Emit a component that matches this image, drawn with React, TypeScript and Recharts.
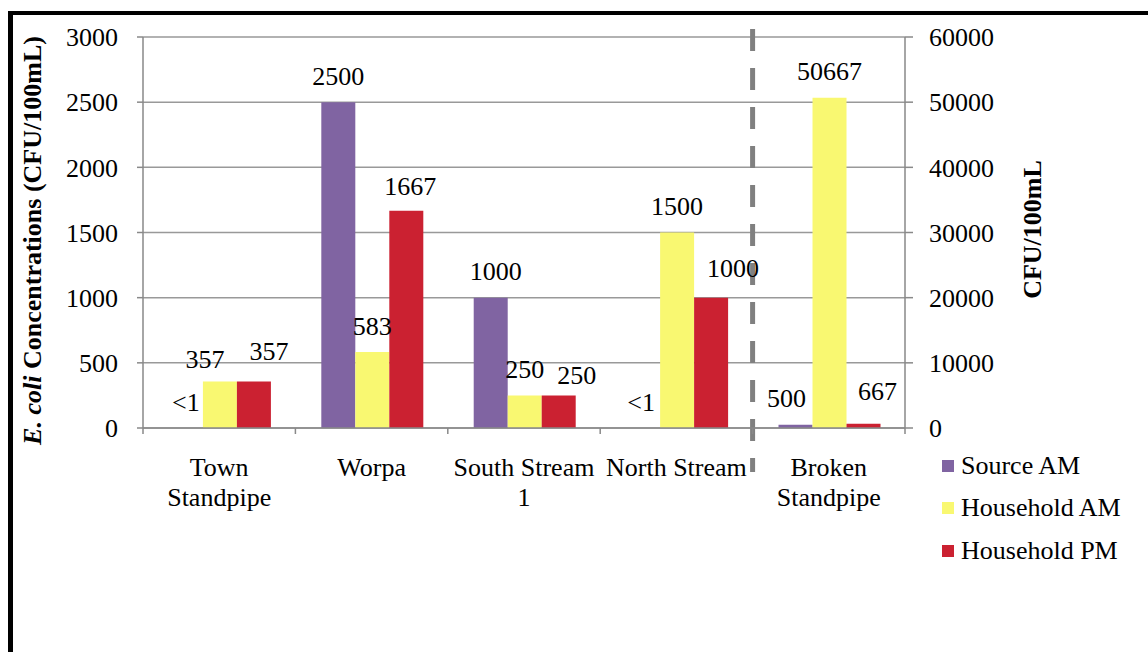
import React from 'react';
import { BarChart, Bar, XAxis, YAxis, CartesianGrid, ReferenceLine, LabelList, Legend } from 'recharts';

// E. coli counts per site (CFU/100mL); 0 means below detection (<1)
const categories = ['Town\nStandpipe', 'Worpa', 'South Stream\n1', 'North Stream', 'Broken\nStandpipe'];
const sourceAm = [0, 2500, 1000, 0, 500];
const householdAm = [357, 583, 250, 1500, 50667];
const householdPm = [357, 1667, 250, 1000, 667];
// sites read against the right-hand axis
const rightAxisSites = ['Broken\nStandpipe'];

const leftTicks = [0, 500, 1000, 1500, 2000, 2500, 3000];
const rightTicks = [0, 10000, 20000, 30000, 40000, 50000, 60000];

const series = [
  { key: 'source', name: 'Source AM', values: sourceAm, color: '#8064A2' },
  { key: 'hhAm', name: 'Household AM', values: householdAm, color: '#F9F871' },
  { key: 'hhPm', name: 'Household PM', values: householdPm, color: '#CB2131' },
];

const rows = categories.map((site, i) => {
  const side = rightAxisSites.includes(site) ? 'R' : 'L';
  const row: Record<string, any> = { site };
  series.forEach((s) => {
    row[s.key + side] = s.values[i];
  });
  return row;
});

const serif = '"Liberation Serif", "Times New Roman", serif';
const axisGray = '#898989';
const gridGray = '#999999';

// hand-placed data labels (dx, dy from the default spot above the bar)
const labelNudge: Record<string, [number, number]> = {
  'hhAm-0': [-15, 4],
  'hhPm-0': [15, -4],
  'hhPm-1': [4, 2],
  'source-2': [5, 0],
  'hhPm-2': [18, 6],
  'source-3': [-2, 0],
  'hhPm-3': [22, -3],
  'source-4': [-9, 0],
  'hhPm-4': [14, -6],
};

const LabelText = ({ x, y, text }: { x: number; y: number; text: string }) => (
  <text x={x} y={y} textAnchor="middle" fill="#000" fontFamily={serif} fontSize={26}>
    {text}
  </text>
);

const barValue = (props: any) => {
  const v = props.value;
  if (Array.isArray(v)) return Number(v[1]) - Number(v[0]);
  return Number(v);
};

const makeLabel = (s: (typeof series)[number]) => (props: any) => {
  // label props carry the bar's value but not its row, so find the site from the value
  const value = barValue(props);
  if (!Number.isFinite(value) || value === 0) return null;
  const index = s.values.indexOf(value);
  if (index < 0) return null;

  const box = typeof props.x === 'number' ? props : props.viewBox;
  const top = Math.min(box.y, box.y + box.height);
  const base = Math.max(box.y, box.y + box.height);
  const centre = box.x + box.width / 2;
  const nudge = (k: string) => labelNudge[`${k}-${index}`] ?? [0, 0];
  const [dx, dy] = nudge(s.key);

  // zero-height source bars get no label slot of their own,
  // so their "<1" is drawn with the household AM bar beside them
  const sourceBelow = s.key === 'hhAm' && sourceAm[index] === 0;
  const [sdx, sdy] = nudge('source');

  return (
    <g>
      <LabelText x={centre + dx} y={top - 17.5 + dy} text={String(value)} />
      {sourceBelow && <LabelText x={centre - box.width + sdx} y={base - 17.5 + sdy} text="<1" />}
    </g>
  );
};

const CategoryTick = (props: any) => {
  const { x, y, payload, index } = props;
  const half = payload?.offset ?? 0;
  const lines = String(payload.value).split('\n');
  const isLast = index === categories.length - 1;
  return (
    <g>
      <line x1={x - half} x2={x - half} y1={y} y2={y + 6} stroke={axisGray} strokeWidth={1.5} />
      {isLast && <line x1={x + half} x2={x + half} y1={y} y2={y + 6} stroke={axisGray} strokeWidth={1.5} />}
      <text x={x} y={y + 48} textAnchor="middle" fill="#000" fontFamily={serif} fontSize={26}>
        {lines.map((line, i) => (
          <tspan key={i} x={x} dy={i === 0 ? 0 : 30}>
            {line}
          </tspan>
        ))}
      </text>
    </g>
  );
};

const LeftTitle = (props: any) => {
  const vb = props.viewBox;
  const cx = vb.x + 32;
  const cy = vb.y + vb.height / 2 + 8;
  return (
    <text
      x={cx}
      y={cy}
      transform={`rotate(-90, ${cx}, ${cy})`}
      textAnchor="middle"
      dominantBaseline="central"
      fontFamily={serif}
      fontSize={26}
      fontWeight="bold"
      fill="#000"
    >
      <tspan fontStyle="italic">E. coli</tspan>
      {' Concentrations (CFU/100mL)'}
    </text>
  );
};

const RightTitle = (props: any) => {
  const vb = props.viewBox;
  const cx = vb.x + 127;
  const cy = vb.y + vb.height / 2 - 3;
  return (
    <text
      x={cx}
      y={cy}
      transform={`rotate(-90, ${cx}, ${cy})`}
      textAnchor="middle"
      dominantBaseline="central"
      fontFamily={serif}
      fontSize={26}
      fontWeight="bold"
      fill="#000"
    >
      CFU/100mL
    </text>
  );
};

const LegendBox = () => (
  <div style={{ fontFamily: serif, fontSize: 26, color: '#000', lineHeight: 1 }}>
    {series.map((s) => (
      <div key={s.key} style={{ display: 'flex', alignItems: 'center', height: 42.3 }}>
        <span style={{ display: 'inline-block', width: 12, height: 12, background: s.color, marginRight: 7 }} />
        <span style={{ whiteSpace: 'nowrap' }}>{s.name}</span>
      </div>
    ))}
  </div>
);

const tickStyle = { fill: '#000', fontSize: 26, fontFamily: serif };

export default function App() {
  return (
    <div style={{ position: 'fixed', left: 0, top: 0, width: 1148, height: 652, background: '#fff', overflow: 'hidden' }}>
      <div
        style={{
          position: 'absolute',
          left: 8,
          top: 11,
          width: 1200,
          height: 700,
          borderTop: '4px solid #000',
          borderLeft: '5px solid #000',
        }}
      />
      <div style={{ position: 'absolute', left: 0, top: 0 }}>
        <BarChart
          width={1148}
          height={652}
          data={rows}
          margin={{ top: 37, right: 0, bottom: 124, left: 0 }}
          barCategoryGap="17%"
          barGap={0}
        >
          <CartesianGrid yAxisId="left" vertical={false} stroke={gridGray} strokeWidth={1.5} />
          <XAxis
            dataKey="site"
            height={100}
            interval={0}
            tickLine={false}
            tickSize={0}
            tickMargin={0}
            axisLine={{ stroke: axisGray, strokeWidth: 1.5 }}
            tick={<CategoryTick />}
          />
          <YAxis
            yAxisId="left"
            orientation="left"
            width={143}
            domain={[0, 3000]}
            ticks={leftTicks}
            interval={0}
            tick={tickStyle}
            tickSize={6}
            tickMargin={19}
            axisLine={{ stroke: axisGray, strokeWidth: 1.5 }}
            tickLine={{ stroke: axisGray, strokeWidth: 1.5 }}
            label={<LeftTitle />}
          />
          <YAxis
            yAxisId="right"
            orientation="right"
            width={243}
            domain={[0, 60000]}
            ticks={rightTicks}
            interval={0}
            tick={{ ...tickStyle, textAnchor: 'start' }}
            tickSize={8}
            tickMargin={16}
            axisLine={{ stroke: axisGray, strokeWidth: 1.5 }}
            tickLine={{ stroke: axisGray, strokeWidth: 1.5 }}
            label={<RightTitle />}
          />
          {series.flatMap((s) =>
            ['L', 'R'].map((side) => (
              <Bar
                key={s.key + side}
                name={s.name}
                dataKey={s.key + side}
                yAxisId={side === 'L' ? 'left' : 'right'}
                stackId={s.key}
                fill={s.color}
                isAnimationActive={false}
              >
                <LabelList content={makeLabel(s)} />
              </Bar>
            ))
          )}
          <ReferenceLine
            yAxisId="left"
            x={categories[4]}
            position="start"
            shape={(p: any) => {
              const top = Math.min(p.y1, p.y2) - 8;
              const bottom = Math.max(p.y1, p.y2) + 44;
              return (
                <line
                  x1={p.x1}
                  x2={p.x2}
                  y1={top}
                  y2={bottom}
                  stroke="#808080"
                  strokeWidth={5}
                  strokeDasharray="22 17"
                />
              );
            }}
          />
          <Legend
            layout="vertical"
            align="center"
            verticalAlign="middle"
            content={<LegendBox />}
            wrapperStyle={{ left: 942, top: 445, width: 200, height: 130 }}
          />
        </BarChart>
      </div>
    </div>
  );
}
